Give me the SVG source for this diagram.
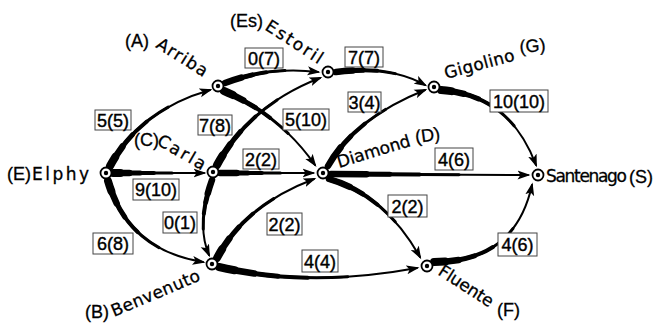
<svg xmlns="http://www.w3.org/2000/svg" xmlns:xlink="http://www.w3.org/1999/xlink" width="665" height="327" viewBox="0 0 665 327">
<style>
.e{fill:none;stroke:#000;stroke-linecap:round}
.l1{stroke-width:2;marker-end:url(#ah)}
.l2{stroke-width:3;stroke-dasharray:65 200}
.l3{stroke-width:4;stroke-dasharray:45 200}
.l4{stroke-width:5;stroke-dasharray:30 200}
.l5{stroke-width:6.5;stroke-dasharray:18 200}
.l6{stroke-width:8;stroke-dasharray:8 200}
.lab rect{fill:#fff;stroke:#444;stroke-width:1}
.lab text{font-family:"Liberation Sans",Arial,sans-serif;font-size:18px;text-anchor:middle;stroke:#000;stroke-width:0.4}
.o{fill:#fff;stroke:#000;stroke-width:1.8}
.d{fill:#000}
.nm{font-family:"DejaVu Sans",sans-serif;font-size:17px;stroke:#000;stroke-width:0.3}
.pl{font-family:"Liberation Sans",Arial,sans-serif;font-size:18px;stroke:#000;stroke-width:0.3}
</style>
<defs>
<marker id="ah" markerUnits="userSpaceOnUse" markerWidth="14" markerHeight="10" refX="10.5" refY="5" orient="auto">
<path d="M0,0.5 L13,5 L0,9.5 L3,5 z" fill="#000"/>
</marker>
<path id="pEA" d="M110,166 Q140,110 210,90" pathLength="100"/>
<path id="pEC" d="M113,173 L204,173" pathLength="100"/>
<path id="pEB" d="M108,181 Q128,250 203,262" pathLength="100"/>
<path id="pAEs" d="M225,83 Q270,66 318,72" pathLength="100"/>
<path id="pAD" d="M224,91 Q280,115 315,165" pathLength="100"/>
<path id="pCEs" d="M217,165 Q250,105 320,78" pathLength="100"/>
<path id="pCD" d="M220,173 L313,173" pathLength="100"/>
<path id="pCB" d="M212,180 Q196,225 209,255" pathLength="100"/>
<path id="pBD" d="M217,258 Q245,205 314,179" pathLength="100"/>
<path id="pBF" d="M219,267 Q310,288 417,268" pathLength="100"/>
<path id="pEsG" d="M336,72 Q390,65 425,85" pathLength="100"/>
<path id="pDG" d="M328,166 Q355,118 425,90" pathLength="100"/>
<path id="pGS" d="M441,90 Q510,95 536,165" pathLength="100"/>
<path id="pDS" d="M331,174 L528,175" pathLength="100"/>
<path id="pDF" d="M329,179 Q385,195 420,257" pathLength="100"/>
<path id="pFS" d="M434,262 Q515,262 532,185" pathLength="100"/>
</defs>
<g id="connectors">
<g id="e-EA"><use href="#pEA" class="e l1"/><use href="#pEA" class="e l2"/><use href="#pEA" class="e l3"/><use href="#pEA" class="e l4"/><use href="#pEA" class="e l5"/><use href="#pEA" class="e l6"/></g>
<g id="e-EC"><use href="#pEC" class="e l1"/><use href="#pEC" class="e l2"/><use href="#pEC" class="e l3"/><use href="#pEC" class="e l4"/><use href="#pEC" class="e l5"/><use href="#pEC" class="e l6"/></g>
<g id="e-EB"><use href="#pEB" class="e l1"/><use href="#pEB" class="e l2"/><use href="#pEB" class="e l3"/><use href="#pEB" class="e l4"/><use href="#pEB" class="e l5"/><use href="#pEB" class="e l6"/></g>
<g id="e-AEs"><use href="#pAEs" class="e l1"/><use href="#pAEs" class="e l2"/><use href="#pAEs" class="e l3"/><use href="#pAEs" class="e l4"/><use href="#pAEs" class="e l5"/></g>
<g id="e-AD"><use href="#pAD" class="e l1"/><use href="#pAD" class="e l2"/><use href="#pAD" class="e l3"/><use href="#pAD" class="e l4"/><use href="#pAD" class="e l5"/><use href="#pAD" class="e l6"/></g>
<g id="e-CEs"><use href="#pCEs" class="e l1"/><use href="#pCEs" class="e l2"/><use href="#pCEs" class="e l3"/><use href="#pCEs" class="e l4"/><use href="#pCEs" class="e l5"/><use href="#pCEs" class="e l6"/></g>
<g id="e-CD"><use href="#pCD" class="e l1"/><use href="#pCD" class="e l2"/><use href="#pCD" class="e l3"/><use href="#pCD" class="e l4"/><use href="#pCD" class="e l5"/></g>
<g id="e-CB"><use href="#pCB" class="e l1"/><use href="#pCB" class="e l2"/><use href="#pCB" class="e l3"/><use href="#pCB" class="e l4"/><use href="#pCB" class="e l5"/></g>
<g id="e-BD"><use href="#pBD" class="e l1"/><use href="#pBD" class="e l2"/><use href="#pBD" class="e l3"/><use href="#pBD" class="e l4"/><use href="#pBD" class="e l5"/><use href="#pBD" class="e l6"/></g>
<g id="e-BF"><use href="#pBF" class="e l1"/><use href="#pBF" class="e l2"/><use href="#pBF" class="e l3"/><use href="#pBF" class="e l4"/><use href="#pBF" class="e l5"/><use href="#pBF" class="e l6"/></g>
<g id="e-EsG"><use href="#pEsG" class="e l1"/><use href="#pEsG" class="e l2"/><use href="#pEsG" class="e l3"/><use href="#pEsG" class="e l4"/><use href="#pEsG" class="e l5"/></g>
<g id="e-DG"><use href="#pDG" class="e l1"/><use href="#pDG" class="e l2"/><use href="#pDG" class="e l3"/><use href="#pDG" class="e l4"/><use href="#pDG" class="e l5"/></g>
<g id="e-GS"><use href="#pGS" class="e l1"/><use href="#pGS" class="e l2"/><use href="#pGS" class="e l3"/><use href="#pGS" class="e l4"/><use href="#pGS" class="e l5"/><use href="#pGS" class="e l6"/></g>
<g id="e-DS"><use href="#pDS" class="e l1"/><use href="#pDS" class="e l2"/><use href="#pDS" class="e l3"/><use href="#pDS" class="e l4"/><use href="#pDS" class="e l5"/></g>
<g id="e-DF"><use href="#pDF" class="e l1"/><use href="#pDF" class="e l2"/><use href="#pDF" class="e l3"/><use href="#pDF" class="e l4"/><use href="#pDF" class="e l5"/></g>
<g id="e-FS"><use href="#pFS" class="e l1"/><use href="#pFS" class="e l2"/><use href="#pFS" class="e l3"/><use href="#pFS" class="e l4"/><use href="#pFS" class="e l5"/><use href="#pFS" class="e l6"/></g>
</g>
<g id="labels" class="lab">
<g id="lab-EA"><rect x="95" y="110" width="36" height="20"/><text x="113" y="126.5">5(5)</text></g>
<g id="lab-EC"><rect x="133" y="179" width="46" height="21"/><text x="156" y="196">9(10)</text></g>
<g id="lab-EB"><rect x="93" y="233" width="40" height="21"/><text x="113" y="250">6(8)</text></g>
<g id="lab-CB"><rect x="163" y="212" width="34" height="21"/><text x="180" y="229">0(1)</text></g>
<g id="lab-CEs"><rect x="198" y="115" width="34" height="20"/><text x="215" y="131.5">7(8)</text></g>
<g id="lab-AEs"><rect x="245" y="48" width="38" height="20"/><text x="264" y="64.5">0(7)</text></g>
<g id="lab-AD"><rect x="283" y="109" width="46" height="21"/><text x="306" y="126">5(10)</text></g>
<g id="lab-CD"><rect x="243" y="149" width="36" height="20"/><text x="261" y="165.5">2(2)</text></g>
<g id="lab-BD"><rect x="267" y="213" width="35" height="22"/><text x="284.5" y="230.5">2(2)</text></g>
<g id="lab-BF"><rect x="302" y="250" width="36" height="22"/><text x="320" y="267.5">4(4)</text></g>
<g id="lab-EsG"><rect x="345" y="47" width="38" height="20"/><text x="364" y="63.5">7(7)</text></g>
<g id="lab-DG"><rect x="348" y="92" width="33" height="20"/><text x="364.5" y="108.5">3(4)</text></g>
<g id="lab-GS"><rect x="490" y="90" width="58" height="22"/><text x="519" y="107.5">10(10)</text></g>
<g id="lab-DS"><rect x="435" y="148" width="38" height="22"/><text x="454" y="165.5">4(6)</text></g>
<g id="lab-DF"><rect x="388" y="195" width="39" height="22"/><text x="407.5" y="212.5">2(2)</text></g>
<g id="lab-FS"><rect x="498" y="233" width="39" height="23"/><text x="517.5" y="251">4(6)</text></g>
</g>
<g id="node-E"><circle class="o" cx="106" cy="173" r="5.5"/><circle class="d" cx="106" cy="173" r="2.2"/>
<text class="pl" x="7" y="180">(E)</text><text class="nm" x="32" y="180" textLength="57">Elphy</text></g>
<g id="node-A"><circle class="o" cx="218" cy="86" r="5.5"/><circle class="d" cx="218" cy="86" r="2.2"/>
<text class="pl" x="125" y="47">(A)</text><text class="nm" x="155" y="47" textLength="57" transform="rotate(32 155 47)">Arriba</text></g>
<g id="node-Es"><circle class="o" cx="328" cy="72" r="5.5"/><circle class="d" cx="328" cy="72" r="2.2"/>
<text class="pl" x="230" y="27">(Es)</text><text class="nm" x="264" y="29" textLength="65" transform="rotate(33 264 29)">Estoril</text></g>
<g id="node-G"><circle class="o" cx="434" cy="87" r="5.5"/><circle class="d" cx="434" cy="87" r="2.2"/>
<text class="nm" x="446" y="79" textLength="72" transform="rotate(-15 446 79)">Gigolino</text><text class="pl" x="520" y="53" transform="rotate(-5 520 53)">(G)</text></g>
<g id="node-C"><circle class="o" cx="213" cy="172" r="5.5"/><circle class="d" cx="213" cy="172" r="2.2"/>
<text class="pl" x="134" y="146">(C)</text><text class="nm" x="156" y="144" textLength="53" transform="rotate(30 156 144)">Carla</text></g>
<g id="node-D"><circle class="o" cx="323" cy="173" r="5.5"/><circle class="d" cx="323" cy="173" r="2.2"/>
<text class="nm" x="339" y="168" textLength="76" transform="rotate(-17 339 168)">Diamond</text><text class="pl" x="416" y="143" transform="rotate(-8 416 143)">(D)</text></g>
<g id="node-S"><circle class="o" cx="538" cy="175" r="5.5"/><circle class="d" cx="538" cy="175" r="2.2"/>
<text class="nm" x="546" y="182" textLength="81">Santenago</text><text class="pl" x="629" y="183">(S)</text></g>
<g id="node-B"><circle class="o" cx="212" cy="264" r="5.5"/><circle class="d" cx="212" cy="264" r="2.2"/>
<text class="pl" x="85" y="318">(B)</text><text class="nm" x="114" y="317" textLength="95" transform="rotate(-23 114 317)">Benvenuto</text></g>
<g id="node-F"><circle class="o" cx="427" cy="266" r="5.5"/><circle class="d" cx="427" cy="266" r="2.2"/>
<text class="nm" x="437" y="274" textLength="62" transform="rotate(33 437 274)">Fluente</text><text class="pl" x="497" y="316">(F)</text></g>
</svg>
